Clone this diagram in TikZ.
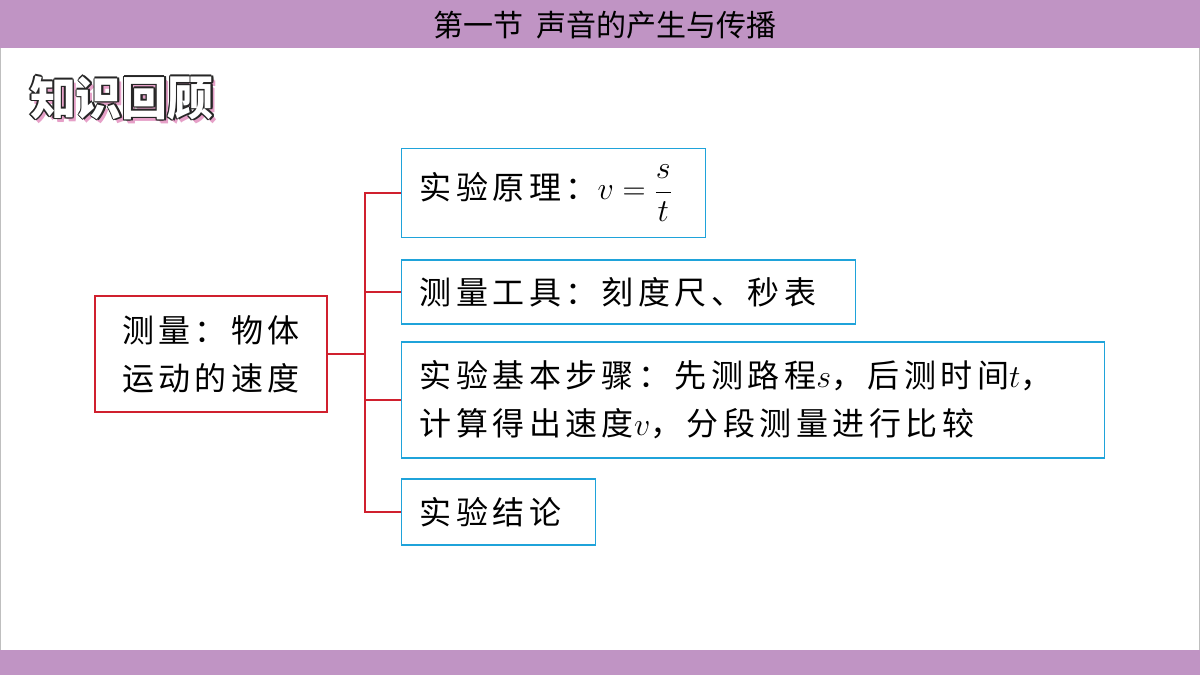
\RequirePackage{fix-cm}
\documentclass[tikz,border=0pt]{standalone}
\usepackage{fontspec}
\setmainfont{Noto Sans CJK SC}
\newfontfamily\spaced{Noto Sans CJK SC}[LetterSpace=14]
\usetikzlibrary{positioning}
\definecolor{barpurple}{HTML}{C094C4}
\definecolor{boxblue}{HTML}{1FA3DA}
\definecolor{linered}{HTML}{D0202E}
\definecolor{shadowpink}{HTML}{E6A0C8}
\tikzset{
  item/.style = {draw = boxblue, line width = 1.2pt, anchor = west, align = left, inner xsep = 18pt, inner ysep = 0pt, font = \spaced\fontsize{32}{48}\selectfont},
  root/.style = {draw = linered, line width = 1.2pt, align = left, minimum width = 232pt, minimum height = 116pt, inner sep = 0pt, font = \spaced\fontsize{32}{48}\selectfont},
  branch/.style = {linered, line width = 1.2pt}
}
\begin{document}
\begin{tikzpicture}[x=1pt, y=-1pt]
\useasboundingbox (0,0) rectangle (1200,675);
\fill[white] (0,0) rectangle (1200,675);
\draw[gray!50] (0.5,0) -- (0.5,675) (1199.5,0) -- (1199.5,675);
\fill[barpurple] (0,0) rectangle (1200,48);
\fill[barpurple] (0,650) rectangle (1200,675);
\node (title) at (605,25) {\fontsize{30}{34}\selectfont 第一节\ \ 声音的产生与传播};
% heading with outline
\foreach \dx/\dy in {3/3,4/4} \node[shadowpink, font = \fontsize{46}{50}\selectfont\bfseries] at (122+\dx,98+\dy) {知识回顾};
\foreach \dx/\dy in {-1.5/0,1.5/0,0/-1.5,0/1.5,-1/-1,1/1,-1/1,1/-1} \node[black!85, font = \fontsize{46}{50}\selectfont\bfseries] at (122+\dx,98+\dy) {知识回顾};
\node[white, font = \fontsize{46}{50}\selectfont\bfseries] (heading) at (122,98) {知识回顾};
% tree
\node[root] (measure) at (211,354) {测量：物体\\运动的速度};
\node[item, text width = 268pt, minimum height = 89pt] (principle) at (401,193) {实验原理：$v=\displaystyle\frac{s}{t}$};
\node[item, text width = 418pt, minimum height = 64pt] (tools) at (401,292) {测量工具：刻度尺、秒表};
\node[item, text width = 667pt, minimum height = 116pt] (steps) at (401,400) {实验基本步骤：先测路程$s$，后测时间$t$，\\计算得出速度$v$，分段测量进行比较};
\node[item, text width = 158pt, minimum height = 66pt] (result) at (401,512) {实验结论};
\coordinate (fork) at (365,354);
\draw[branch] (measure.east) -- (fork);
\draw[branch] (principle.west) -| (fork) |- (result.west);
\draw[branch] (tools.west) -- (tools.west -| fork);
\draw[branch] (steps.west) -- (steps.west -| fork);
\end{tikzpicture}
\end{document}
